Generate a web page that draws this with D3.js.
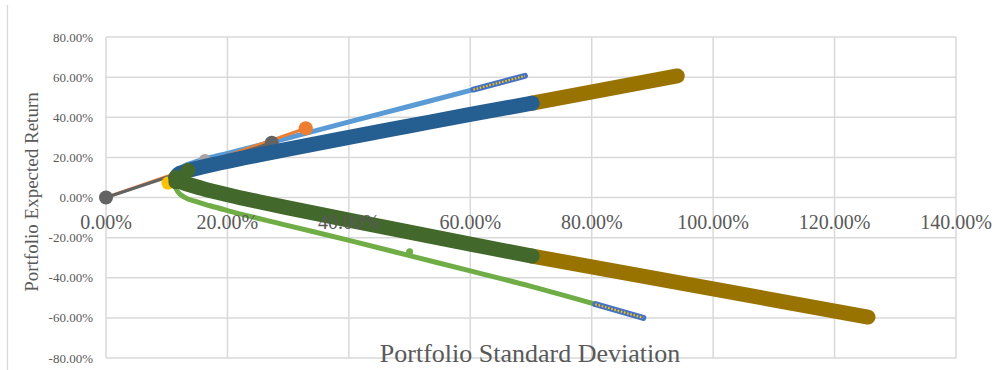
<!DOCTYPE html>
<html>
<head>
<meta charset="utf-8">
<script src="https://cdn.jsdelivr.net/npm/d3@7"></script>
<style>
    body { margin: 0; background: white; }
    text { font-family: "Liberation Serif", "Times New Roman", serif; }
</style>
</head>
<body>
<div id="viz_frontier"></div>
<script>
// ticks
const x_ticks = [0, 0.2, 0.4, 0.6, 0.8, 1.0, 1.2, 1.4]
const y_ticks = [-0.8, -0.6, -0.4, -0.2, 0, 0.2, 0.4, 0.6, 0.8]

// frontier 1 (thin lines), [std dev, return]
const frontier_up = [[0.112, 0.11], [0.125, 0.15], [0.145, 0.175], [0.17, 0.198], [0.20, 0.22],
                     [0.276, 0.278], [0.402, 0.378], [0.50, 0.455], [0.605, 0.538]]
const frontier_up_end = [[0.605, 0.538], [0.69, 0.606]]
const frontier_down = [[0.112, 0.07], [0.118, 0.03], [0.13, 0.0], [0.15, -0.022], [0.17, -0.04],
                       [0.20, -0.065], [0.30, -0.14], [0.402, -0.215], [0.50, -0.29], [0.60, -0.366],
                       [0.70, -0.443], [0.806, -0.532]]
const frontier_down_end = [[0.806, -0.532], [0.885, -0.60]]

// frontier 2 (thick bands)
const band_up = [[0.115, 0.10], [0.119, 0.116], [0.128, 0.127], [0.14, 0.138], [0.16, 0.153],
                 [0.20, 0.18], [0.25, 0.211], [0.30, 0.241], [0.40, 0.30], [0.50, 0.357],
                 [0.60, 0.414], [0.702, 0.47]]
const band_up_ext = [[0.702, 0.47], [0.941, 0.606]]
const band_down = [[0.115, 0.10], [0.118, 0.09], [0.125, 0.076], [0.14, 0.061], [0.16, 0.044],
                   [0.20, 0.014], [0.25, -0.02], [0.30, -0.052], [0.40, -0.113], [0.50, -0.173],
                   [0.60, -0.232], [0.702, -0.292]]
const band_down_ext = [[0.702, -0.292], [1.255, -0.596]]

// capital allocation lines
const cal_orange = [[0, 0], [0.329, 0.345]]
const cal_gray = [[0, 0], [0.273, 0.273]]

// single portfolios
const pts_gray = [[0, 0], [0.273, 0.273]]
const pt_orange = [[0.329, 0.345]]
const pt_lightgray = [[0.163, 0.184]]
const pt_yellow = [[0.102, 0.072]]
const pts_darkgreen = [[0.115, 0.079], [0.135, 0.134]]
const pt_green = [[0.50, -0.27]]

const width = 1001
const height = 370

const svg = d3.select("#viz_frontier")
            .append("svg")
                .attr("width", width)
                .attr("height", height);

const x = d3.scaleLinear().domain([0, 1.4]).range([106, 956]);
const y = d3.scaleLinear().domain([-0.8, 0.8]).range([358, 37]);
const fmt = d => d3.format(".2%")(d).replace("\u2212", "-");

// chart border
svg.append("line")
    .attr("x1", 7.5).attr("x2", 7.5)
    .attr("y1", 5).attr("y2", height)
    .attr("stroke", "#d9d9d9")
    .attr("stroke-width", 1.3);

// grid
svg.append("g")
    .selectAll("line")
    .data(y_ticks)
    .join("line")
        .attr("x1", x(0)).attr("x2", x(1.4))
        .attr("y1", d => y(d)).attr("y2", d => y(d))
        .attr("stroke", "#d9d9d9")
        .attr("stroke-width", 1.5);
svg.append("g")
    .selectAll("line")
    .data(x_ticks)
    .join("line")
        .attr("x1", d => x(d)).attr("x2", d => x(d))
        .attr("y1", y(0.8)).attr("y2", y(-0.8))
        .attr("stroke", "#d9d9d9")
        .attr("stroke-width", 1.5);

// y tick labels
svg.append("g")
    .selectAll("text")
    .data(y_ticks)
    .join("text")
        .attr("x", 93)
        .attr("y", d => y(d) + 4.5)
        .attr("text-anchor", "end")
        .attr("fill", "#595959")
        .style("font-size", "13px")
        .text(fmt);

const line = d3.line().x(d => x(d[0])).y(d => y(d[1])).curve(d3.curveMonotoneX);

function drawPath(data, color, w) {
    return svg.append("path")
        .datum(data)
        .attr("d", line)
        .attr("fill", "none")
        .attr("stroke", color)
        .attr("stroke-width", w)
        .attr("stroke-linecap", "round")
        .attr("stroke-linejoin", "round");
}

function drawDotted(data) {
    drawPath(data, "#4472c4", 6);
    svg.append("path")
        .datum(data)
        .attr("d", line)
        .attr("fill", "none")
        .attr("stroke", "#ffc000")
        .attr("stroke-width", 2.2)
        .attr("stroke-dasharray", "1.6,1.7");
}

function drawDots(data, color, r) {
    svg.append("g")
        .selectAll("circle")
        .data(data)
        .join("circle")
            .attr("cx", d => x(d[0]))
            .attr("cy", d => y(d[1]))
            .attr("r", r)
            .attr("fill", color);
}

// thin frontier
drawPath(frontier_up, "#5b9bd5", 5);
drawPath(frontier_down, "#70ad47", 5);
drawDotted(frontier_up_end);
drawDotted(frontier_down_end);
drawDots(pt_green, "#70ad47", 3.5);

// lines from origin
drawPath(cal_orange, "#ed7d31", 3);
drawDots(pt_orange, "#ed7d31", 7);
drawPath(cal_gray, "#636363", 3);
drawDots(pts_gray, "#636363", 7);
drawDots(pt_lightgray, "#a5a5a5", 6.5);
drawDots(pt_yellow, "#ffc000", 6.5);

// thick frontier
drawPath(band_up_ext, "#997300", 15);
drawPath(band_down_ext, "#997300", 15);
drawPath(band_up, "#255e91", 15);
drawPath(band_down, "#43682b", 15);
drawDots(pts_darkgreen, "#43682b", 7.5);

// x tick labels (axis crosses at 0)
svg.append("g")
    .selectAll("text")
    .data(x_ticks)
    .join("text")
        .attr("x", d => x(d))
        .attr("y", 229)
        .attr("text-anchor", "middle")
        .attr("fill", "#595959")
        .style("font-size", "20px")
        .text(fmt);

// axis titles
svg.append("text")
    .attr("x", 530)
    .attr("y", 362)
    .attr("text-anchor", "middle")
    .attr("fill", "#595959")
    .style("font-size", "26px")
    .text("Portfolio Standard Deviation");

svg.append("text")
    .attr("transform", "translate(38, 192) rotate(-90)")
    .attr("text-anchor", "middle")
    .attr("fill", "#595959")
    .style("font-size", "19px")
    .text("Portfolio Expected Return");
</script>
</body>
</html>
